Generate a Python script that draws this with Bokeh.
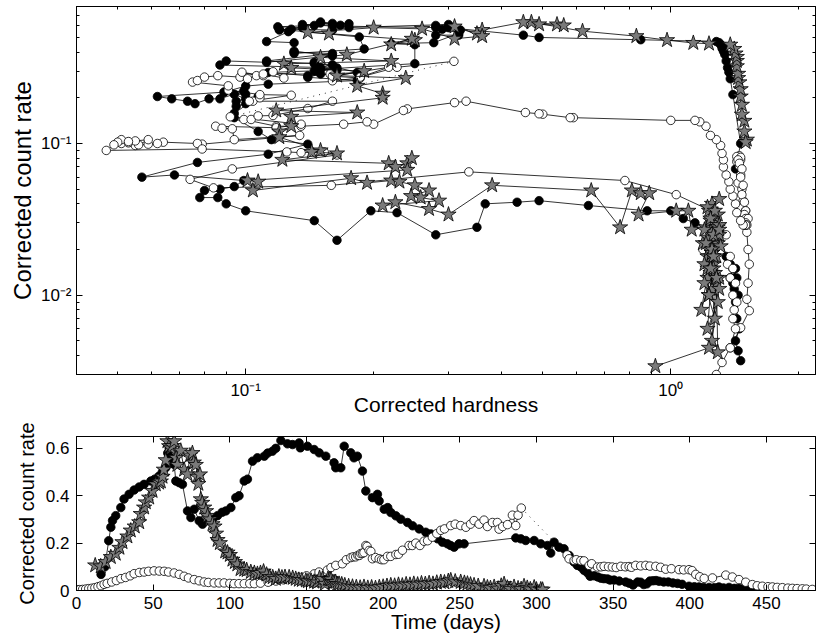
from bokeh.plotting import figure
from bokeh.layouts import column
from bokeh.models import (LinearAxis, LogAxis, FixedTicker, CustomJSTickFormatter, Range1d)
from bokeh.embed import file_html
from bokeh.resources import INLINE

FONT = "Liberation Sans"

# ---------------- data ----------------
# filled circles: time (days), corrected count rate, corrected hardness
f_day = [16, 18.5, 21, 22.4, 23.5, 25.6, 28.9, 31, 34.3, 37.6, 40.9, 44.1, 48.5, 51, 53.9, 56, 58.2, 59.5, 60.5, 61.5,
         63.7, 64.8, 67, 69.1, 72.4, 74.6, 76.8, 80, 82.2, 85.5, 89, 92, 95, 97.4, 100.7, 103.9, 106, 109.4, 111.5, 114.8,
         118, 122.5, 124.7, 127.8, 130, 133.3, 137.6, 140.9, 145.2, 146, 150.6, 155, 158.3, 162.6, 168, 169.1, 172.4, 174.6, 178.9, 181,
         183.2, 186.5, 188.7, 193, 196.3, 197.4, 200.7, 203, 205, 208.3, 211.5, 215.9, 219.2, 223.5, 227.8, 231.1, 235.5, 238.7, 241.9, 244,
         246.3, 249.5, 252.8, 286.5, 289.8, 293, 298.5, 302.8, 307.2, 309.3, 311.5, 314.7, 318, 321.3, 324.5, 326.7, 329, 331, 333.2, 335,
         337.6, 340, 342, 344, 346.3, 348, 350.6, 354, 358.2, 360.5, 363, 366, 368, 370, 372, 374, 376, 378, 380, 383,
         386, 389, 392, 395, 399.5, 403, 406, 409, 412.6, 416, 419, 422, 425.6, 429, 432, 435, 438.6, 442, 445, 447]
f_rate = [0.068, 0.10, 0.21, 0.267, 0.295, 0.316, 0.35, 0.386, 0.406, 0.424, 0.437, 0.448, 0.462, 0.47, 0.483, 0.50, 0.518, 0.58, 0.60, 0.56,
          0.532, 0.462, 0.455, 0.448, 0.336, 0.308, 0.343, 0.294, 0.28, 0.294, 0.305, 0.316, 0.33, 0.336, 0.35, 0.392, 0.40, 0.462, 0.47, 0.546,
          0.56, 0.567, 0.58, 0.588, 0.60, 0.633, 0.619, 0.616, 0.623, 0.602, 0.609, 0.595, 0.581, 0.567, 0.539, 0.518, 0.518, 0.609, 0.581, 0.56,
          0.567, 0.504, 0.42, 0.392, 0.406, 0.378, 0.343, 0.35, 0.329, 0.315, 0.301, 0.287, 0.273, 0.26, 0.246, 0.239, 0.218, 0.204, 0.197, 0.19,
          0.183, 0.197, 0.197, 0.222, 0.218, 0.211, 0.211, 0.197, 0.19, 0.158, 0.204, 0.183, 0.176, 0.148, 0.12, 0.106, 0.099, 0.085, 0.075, 0.06,
          0.062, 0.057, 0.052, 0.05, 0.049, 0.044, 0.044, 0.04, 0.036, 0.031, 0.023, 0.036, 0.035, 0.025, 0.028, 0.04, 0.041, 0.042, 0.039, 0.036,
          0.036, 0.032, 0.03, 0.026, 0.018, 0.016, 0.015, 0.013, 0.013, 0.012, 0.015, 0.011, 0.013, 0.009, 0.010, 0.007, 0.006, 0.005, 0.0043, 0.0037]
f_hard = [1.42, 1.46, 1.40, 1.38, 1.37, 1.36, 1.35, 1.34, 1.33, 1.32, 1.33, 1.31, 1.30, 1.28, 0.85, 0.49, 0.45, 0.30, 0.28, 0.32,
          0.317, 0.277, 0.22, 0.25, 0.25, 0.15, 0.145, 0.183, 0.14, 0.113, 0.164, 0.15, 0.16, 0.145, 0.112, 0.16, 0.13, 0.13, 0.112, 0.126,
          0.12, 0.128, 0.136, 0.119, 0.145, 0.15, 0.16, 0.175, 0.15, 0.167, 0.136, 0.16, 0.28, 0.29, 0.317, 0.317, 0.28, 0.30, 0.175, 0.16,
          0.12, 0.185, 0.19, 0.13, 0.13, 0.16, 0.112, 0.09, 0.087, 0.164, 0.145, 0.15, 0.14, 0.183, 0.113, 0.10, 0.089, 0.062, 0.067, 0.073,
          0.076, 0.082, 0.087, 0.099, 0.089, 0.10, 0.094, 0.10, 0.095, 0.094, 0.107, 0.10, 0.095, 0.094, 0.107, 0.115, 0.14, 0.113, 0.077, 0.057,
          0.068, 0.099, 0.094, 0.087, 0.08, 0.078, 0.086, 0.09, 0.10, 0.145, 0.164, 0.197, 0.227, 0.28, 0.35, 0.366, 0.435, 0.49, 0.64, 0.88,
          1.0, 1.07, 1.14, 1.30, 1.35, 1.38, 1.40, 1.38, 1.41, 1.40, 1.42, 1.41, 1.43, 1.42, 1.44, 1.43, 1.45, 1.42, 1.44, 1.46]

# open circles
o_day = [0.5, 2, 4, 6, 8, 10, 12, 14, 16, 18, 20, 23, 26, 29, 32, 35, 37.6, 41, 44.1, 47,
         50.6, 54, 57.2, 60, 63.7, 67, 70.2, 73, 76.8, 80, 83.3, 86, 89.8, 93, 96.3, 100, 102.8, 106, 109.4, 113,
         116, 120, 125, 130, 135, 140, 145, 150, 155, 158.2, 163.6, 166, 169.1, 173.4, 176, 178.9, 180.5, 182.1, 183.5, 184.5,
         185.4, 186.5, 187.5, 188.7, 189.5, 190.8, 192, 193, 195, 197.4, 199, 200.5, 202.8, 205, 208.3, 210, 212.6, 216.9, 219, 221.3,
         224, 226.7, 229, 232.1, 235, 237.6, 240, 244.1, 247, 250.6, 254, 257, 259.3, 262.6, 265.8, 268, 271.3, 274.5, 275.6, 278,
         281.1, 284.3, 286.5, 288, 290.1,
         320, 321.3, 324.5, 326, 328.9, 331, 334.3, 336, 339.8, 342, 344.1, 347, 349.5, 352, 355, 358, 360.4, 362, 364.7, 368,
         371.3, 374, 377.8, 381, 384.3, 388, 393, 396, 399.5, 401.5, 403.9, 406.5, 409.4, 414.8, 423.5, 427.8, 432.1, 436.5, 440.8, 444,
         447.3, 451, 453.9, 457, 460.4, 464, 466.9, 470, 473.4, 476, 479.9]
o_rate = [0.003, 0.0036, 0.0045, 0.0061, 0.0079, 0.0094, 0.012, 0.016, 0.02, 0.026, 0.03, 0.036, 0.042, 0.05, 0.055, 0.062, 0.071, 0.076, 0.078, 0.081,
          0.083, 0.082, 0.081, 0.078, 0.074, 0.068, 0.06, 0.053, 0.046, 0.041, 0.036, 0.034, 0.032, 0.032, 0.032, 0.03, 0.029, 0.029, 0.029, 0.029,
          0.029, 0.031, 0.035, 0.04, 0.045, 0.05, 0.056, 0.062, 0.07, 0.078, 0.086, 0.097, 0.106, 0.113, 0.13, 0.139, 0.142, 0.142, 0.148, 0.148,
          0.156, 0.157, 0.16, 0.19, 0.186, 0.169, 0.165, 0.134, 0.139, 0.134, 0.13, 0.13, 0.144, 0.144, 0.152, 0.153, 0.17, 0.19, 0.19, 0.2,
          0.19, 0.208, 0.21, 0.225, 0.24, 0.254, 0.26, 0.274, 0.28, 0.274, 0.267, 0.28, 0.295, 0.28, 0.297, 0.27, 0.287, 0.287, 0.259, 0.27,
          0.278, 0.318, 0.274, 0.318, 0.348,
          0.15, 0.134, 0.127, 0.13, 0.126, 0.125, 0.106, 0.113, 0.099, 0.1, 0.102, 0.1, 0.099, 0.097, 0.102, 0.1, 0.101, 0.098, 0.106, 0.104,
          0.106, 0.103, 0.102, 0.098, 0.09, 0.092, 0.088, 0.087, 0.088, 0.084, 0.068, 0.058, 0.051, 0.053, 0.065, 0.057, 0.046, 0.035, 0.025, 0.02,
          0.018, 0.016, 0.015, 0.013, 0.012, 0.01, 0.009, 0.008, 0.007, 0.006, 0.0045]
o_hard = [1.28, 1.32, 1.38, 1.46, 1.53, 1.51, 1.52, 1.53, 1.52, 1.51, 1.50, 1.50, 1.48, 1.47, 1.44, 1.46, 1.45, 1.43, 1.46, 1.44,
          1.45, 1.43, 1.46, 1.44, 1.45, 1.47, 1.46, 1.48, 1.47, 1.49, 1.50, 1.49, 1.51, 1.50, 1.52, 1.50, 1.51, 1.50, 1.49, 1.50,
          1.48, 1.46, 1.43, 1.42, 1.40, 1.38, 1.37, 1.35, 1.33, 1.33, 1.32, 1.31, 1.28, 1.24, 1.21, 1.17, 1.14, 1.0, 0.59, 0.58,
          0.50, 0.49, 0.455, 0.33, 0.31, 0.24, 0.235, 0.20, 0.193, 0.17, 0.135, 0.118, 0.099, 0.103, 0.107, 0.116, 0.14, 0.16, 0.104, 0.108,
          0.102, 0.128, 0.108, 0.091, 0.091, 0.075, 0.077, 0.08, 0.086, 0.097, 0.101, 0.106, 0.098, 0.11, 0.116, 0.123, 0.11, 0.158, 0.16, 0.186,
          0.16, 0.217, 0.186, 0.227, 0.309,
          0.092, 0.135, 0.118, 0.085, 0.088, 0.093, 0.094, 0.134, 0.079, 0.077, 0.064, 0.062, 0.059, 0.055, 0.053, 0.051, 0.053, 0.056, 0.059, 0.055,
          0.051, 0.053, 0.05, 0.049, 0.047, 0.079, 0.125, 0.135, 0.153, 0.164, 0.093, 0.074, 0.084, 0.159, 0.335, 0.78, 1.03, 1.27, 1.35, 1.19,
          1.38, 1.36, 1.40, 1.38, 1.42, 1.40, 1.43, 1.41, 1.40, 1.42, 1.38]
o_dotted_after_day = 290.1   # data gap drawn with a dotted line

# stars
s_day = [12.2, 15.8, 19, 22.4, 25.6, 28, 30, 33.2, 35.4, 38, 40.9, 41.9, 44.1, 45.2, 47.4, 49.6, 51.7, 53.9, 55, 56.1,
         57, 58.2, 59.3, 60.4, 61.5, 62.5, 63.7, 65, 65.8, 68, 70.2, 72.4, 74, 75.6, 76.5, 77.8, 78.9, 79.5, 80.5, 81.1,
         82, 83.3, 84.5, 85.5, 87, 88.7, 90, 91, 92, 93.5, 97, 98.5, 100, 101.7, 103.3, 104.9, 107, 109.4, 111, 113.7,
         116, 118, 120, 122, 124, 126, 128, 130, 132, 134, 136, 138.7, 141, 143, 145, 147, 149.6, 151, 153, 155,
         157, 158.5, 160.4, 162, 164, 165, 166, 167, 168, 169, 170, 171.3, 173, 175, 177.5, 180, 182.5, 185, 187.5, 190,
         192.5, 195, 197.5, 200, 202.5, 205, 207.5, 210, 212.5, 215, 217.5, 220, 222.5, 225, 227.5, 230, 232.5, 235, 237.6, 240,
         242.5, 244.1, 247, 250.6, 253, 255, 257, 259.3, 262, 265.8, 268, 270, 272.4, 275, 277, 278.9, 281, 283, 285.4, 288,
         290, 291.9, 294, 296, 298.5, 300, 302.8, 304]
s_rate = [0.106, 0.102, 0.12, 0.141, 0.155, 0.18, 0.204, 0.228, 0.253, 0.27, 0.288, 0.323, 0.35, 0.372, 0.392, 0.42, 0.448, 0.455, 0.46, 0.48,
          0.51, 0.55, 0.63, 0.609, 0.60, 0.61, 0.63, 0.56, 0.53, 0.59, 0.51, 0.49, 0.57, 0.58, 0.54, 0.53, 0.48, 0.45, 0.49, 0.385,
          0.37, 0.35, 0.335, 0.315, 0.30, 0.28, 0.27, 0.24, 0.213, 0.20, 0.165, 0.16, 0.15, 0.13, 0.12, 0.11, 0.09, 0.088, 0.086, 0.078,
          0.074, 0.07, 0.074, 0.08, 0.067, 0.057, 0.056, 0.049, 0.059, 0.055, 0.057, 0.056, 0.053, 0.049, 0.045, 0.044, 0.042, 0.039, 0.041, 0.037,
          0.034, 0.053, 0.049, 0.028, 0.049, 0.047, 0.047, 0.034, 0.036, 0.036, 0.027, 0.028, 0.026, 0.022, 0.018, 0.016, 0.014, 0.012, 0.015, 0.011,
          0.013, 0.010, 0.014, 0.016, 0.019, 0.022, 0.02, 0.024, 0.021, 0.026, 0.024, 0.028, 0.025, 0.03, 0.027, 0.031, 0.028, 0.033, 0.036, 0.034,
          0.04, 0.043, 0.038, 0.036, 0.032, 0.029, 0.025, 0.022, 0.019, 0.018, 0.013, 0.01, 0.015, 0.008, 0.02, 0.027, 0.012, 0.007, 0.015, 0.009,
          0.006, 0.018, 0.011, 0.005, 0.013, 0.0042, 0.0045, 0.0034]
s_hard = [1.51, 1.50, 1.49, 1.49, 1.47, 1.47, 1.46, 1.46, 1.45, 1.44, 1.44, 1.43, 1.43, 1.43, 1.42, 1.41, 1.38, 1.23, 1.13, 0.98,
          0.83, 0.62, 0.47, 0.54, 0.56, 0.49, 0.45, 0.36, 0.35, 0.31, 0.36, 0.31, 0.26, 0.20, 0.14, 0.157, 0.25, 0.22, 0.246, 0.173,
          0.15, 0.22, 0.123, 0.128, 0.19, 0.164, 0.238, 0.183, 0.21, 0.21, 0.118, 0.183, 0.128, 0.128, 0.12, 0.12, 0.15, 0.143, 0.164, 0.122,
          0.217, 0.225, 0.24, 0.246, 0.24, 0.101, 0.107, 0.104, 0.177, 0.193, 0.22, 0.23, 0.25, 0.27, 0.245, 0.258, 0.285, 0.21, 0.225, 0.27,
          0.30, 0.38, 0.65, 0.76, 0.81, 0.85, 0.89, 0.84, 1.03, 1.10, 1.12, 1.21, 1.25, 1.19, 1.22, 1.26, 1.24, 1.28, 1.22, 1.25,
          1.30, 1.23, 1.27, 1.20, 1.25, 1.29, 1.23, 1.27, 1.31, 1.25, 1.22, 1.28, 1.30, 1.26, 1.20, 1.24, 1.29, 1.27, 1.23, 1.29,
          1.25, 1.30, 1.22, 1.27, 1.24, 1.30, 1.26, 1.21, 1.25, 1.28, 1.22, 1.23, 1.26, 1.18, 1.25, 1.30, 1.20, 1.27, 1.24, 1.29,
          1.22, 1.26, 1.30, 1.25, 1.28, 1.29, 1.23, 0.92]

# axes ticks
hard_major = [0.1, 1.0]
hard_minor = [0.04, 0.05, 0.06, 0.07, 0.08, 0.09, 0.2, 0.3, 0.4, 0.5, 0.6, 0.7, 0.8, 0.9, 2.0]
rate_major = [0.01, 0.1]
rate_minor = [0.003, 0.004, 0.005, 0.006, 0.007, 0.008, 0.009, 0.02, 0.03, 0.04, 0.05, 0.06, 0.07, 0.08, 0.09,
              0.2, 0.3, 0.4, 0.5, 0.6, 0.7, 0.8]
time_ticks = [0, 50, 100, 150, 200, 250, 300, 350, 400, 450]
lin_rate_ticks = [0, 0.2, 0.4, 0.6]

STAR_FILL = "#7a7a7a"

log_fmt = CustomJSTickFormatter(code="""
const e = Math.round(Math.log10(tick));
const m = {'-': '\u207b', '0': '\u2070', '1': '\u00b9', '2': '\u00b2', '3': '\u00b3'};
return '10' + String(e).split('').map(c => m[c]).join('');
""")
lin_fmt = CustomJSTickFormatter(code="return tick == 0 ? '0' : tick.toFixed(1);")
blank_fmt = CustomJSTickFormatter(code="return '';")


def style_axis(ax, show_labels=True, label_size="21px", tick_standoff=4, label_standoff=0):
    ax.axis_line_color = "black"
    ax.axis_line_width = 1
    ax.major_tick_in = 6
    ax.major_tick_out = 0
    ax.minor_tick_in = 3
    ax.minor_tick_out = 0
    ax.major_tick_line_color = "black"
    ax.minor_tick_line_color = "black"
    ax.major_label_text_font = FONT
    ax.major_label_text_color = "black"
    ax.axis_label_text_font = FONT
    ax.axis_label_text_font_style = "normal"
    ax.axis_label_text_color = "black"
    ax.axis_label_text_font_size = label_size
    if show_labels:
        ax.major_label_text_font_size = "17px"
        ax.major_label_standoff = tick_standoff
        ax.axis_label_standoff = label_standoff
    else:
        ax.formatter = blank_fmt
        ax.major_label_text_font_size = "1px"
        ax.major_label_standoff = 0


def draw_series(p, xs, ys, marker, size, fill, dotted_after=None, days=None):
    if dotted_after is None:
        p.line(xs, ys, line_color="black", line_width=0.8)
    else:
        i = days.index(dotted_after)
        p.line(xs[:i + 1], ys[:i + 1], line_color="black", line_width=0.8)
        p.line(xs[i + 1:], ys[i + 1:], line_color="black", line_width=0.8)
        p.line(xs[i:i + 2], ys[i:i + 2], line_color="black", line_width=0.8, line_dash="1 5")
    p.scatter(xs, ys, marker=marker, size=size, fill_color=fill, line_color="black", line_width=0.8)


def frame_style(p):
    p.xgrid.visible = False
    p.ygrid.visible = False
    p.outline_line_color = "black"
    p.outline_line_width = 1
    p.outline_line_alpha = 1
    p.background_fill_color = "white"


# ---------------- top panel: hardness-intensity ----------------
p1 = figure(width=816, height=418, x_axis_type="log", y_axis_type="log",
            x_range=Range1d(0.04, 2.19), y_range=Range1d(0.003, 0.8),
            output_backend="svg", toolbar_location=None,
            min_border_left=76, min_border_right=1, min_border_top=6, min_border_bottom=42)
frame_style(p1)

p1.xaxis[0].ticker = FixedTicker(ticks=hard_major, minor_ticks=hard_minor)
p1.xaxis[0].formatter = log_fmt
p1.xaxis[0].axis_label = "Corrected hardness"
style_axis(p1.xaxis[0], tick_standoff=6, label_standoff=-10)
p1.yaxis[0].ticker = FixedTicker(ticks=rate_major, minor_ticks=rate_minor)
p1.yaxis[0].formatter = log_fmt
p1.yaxis[0].axis_label = "Corrected count rate"
style_axis(p1.yaxis[0], label_size="24px", tick_standoff=5, label_standoff=2)

ax_top = LogAxis(ticker=FixedTicker(ticks=hard_major, minor_ticks=hard_minor))
style_axis(ax_top, show_labels=False)
p1.add_layout(ax_top, "above")
ax_right = LogAxis(ticker=FixedTicker(ticks=rate_major, minor_ticks=rate_minor))
style_axis(ax_right, show_labels=False)
p1.add_layout(ax_right, "right")

draw_series(p1, f_hard, f_rate, "circle", 8.5, "black")
draw_series(p1, o_hard, o_rate, "circle", 8.5, "white", dotted_after=o_dotted_after_day, days=o_day)
draw_series(p1, s_hard, s_rate, "star", 16, STAR_FILL)

# ---------------- bottom panel: light curves ----------------
p2 = figure(width=816, height=220, x_range=Range1d(0, 482), y_range=Range1d(0, 0.65),
            output_backend="svg", toolbar_location=None,
            min_border_left=76, min_border_right=1, min_border_top=18, min_border_bottom=48)
frame_style(p2)

p2.xaxis[0].ticker = FixedTicker(ticks=time_ticks, minor_ticks=[])
p2.xaxis[0].axis_label = "Time (days)"
style_axis(p2.xaxis[0], tick_standoff=6, label_standoff=-2)
p2.yaxis[0].ticker = FixedTicker(ticks=lin_rate_ticks, minor_ticks=[])
p2.yaxis[0].formatter = lin_fmt
p2.yaxis[0].axis_label = "Corrected count rate"
style_axis(p2.yaxis[0], label_size="20px", tick_standoff=7, label_standoff=5)

ax_top2 = LinearAxis(ticker=FixedTicker(ticks=time_ticks, minor_ticks=[]))
style_axis(ax_top2, show_labels=False)
p2.add_layout(ax_top2, "above")
ax_right2 = LinearAxis(ticker=FixedTicker(ticks=lin_rate_ticks, minor_ticks=[]))
style_axis(ax_right2, show_labels=False)
p2.add_layout(ax_right2, "right")

draw_series(p2, f_day, f_rate, "circle", 8.5, "black")
draw_series(p2, o_day, o_rate, "circle", 8.5, "white", dotted_after=o_dotted_after_day, days=o_day)
draw_series(p2, s_day, s_rate, "star", 16, STAR_FILL)

layout = column(p1, p2)
open("out.html", "w").write(file_html(layout, INLINE))
